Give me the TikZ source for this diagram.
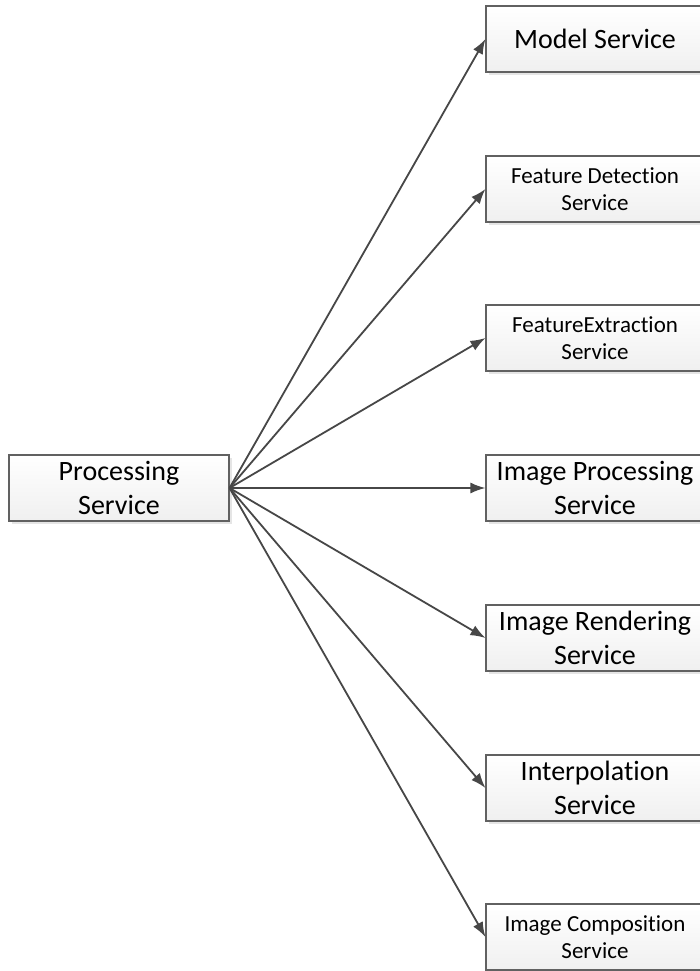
\documentclass[tikz,border=0pt]{standalone}
\usepackage{fontspec}
\setmainfont[Ligatures={NoCommon,NoRequired,NoContextual}]{Carlito}
\usetikzlibrary{arrows.meta,shadows}
\tikzset{
  svcbox/.style={draw=black!62, line width=1.1pt, top color=white, bottom color=black!6,
    minimum width=218pt, minimum height=66pt, inner sep=0pt, align=center,
    drop shadow={shadow xshift=3pt, shadow yshift=-3pt, fill=black!10, opacity=1}},
  bigtxt/.style={font=\fontsize{28}{34}\selectfont},
  smalltxt/.style={font=\fontsize{23}{27}\selectfont},
  conn/.style={draw=black!72, line width=1.8pt, -{Latex[length=15pt,width=11pt]}}
}
\begin{document}
\begin{tikzpicture}[x=1pt,y=-1pt]
\clip (0,0) rectangle (700,971);
\fill[white] (0,0) rectangle (700,971);
\node[svcbox, bigtxt, minimum width=220pt] (proc) at (119,488) {Processing\\Service};
\node[svcbox, bigtxt] (model) at (595,39) {Model Service};
\node[svcbox, smalltxt] (fdet) at (595,189) {Feature Detection\\Service};
\node[svcbox, smalltxt] (fext) at (595,338) {FeatureExtraction\\Service};
\node[svcbox, bigtxt] (iproc) at (595,488) {Image Processing\\Service};
\node[svcbox, bigtxt] (irend) at (595,638) {Image Rendering\\Service};
\node[svcbox, bigtxt] (interp) at (595,788) {Interpolation\\Service};
\node[svcbox, smalltxt] (icomp) at (595,937) {Image Composition\\Service};
\foreach \t in {model,fdet,fext,iproc,irend,interp,icomp}
  \draw[conn] (proc.east) -- (\t.west);
\end{tikzpicture}
\end{document}
